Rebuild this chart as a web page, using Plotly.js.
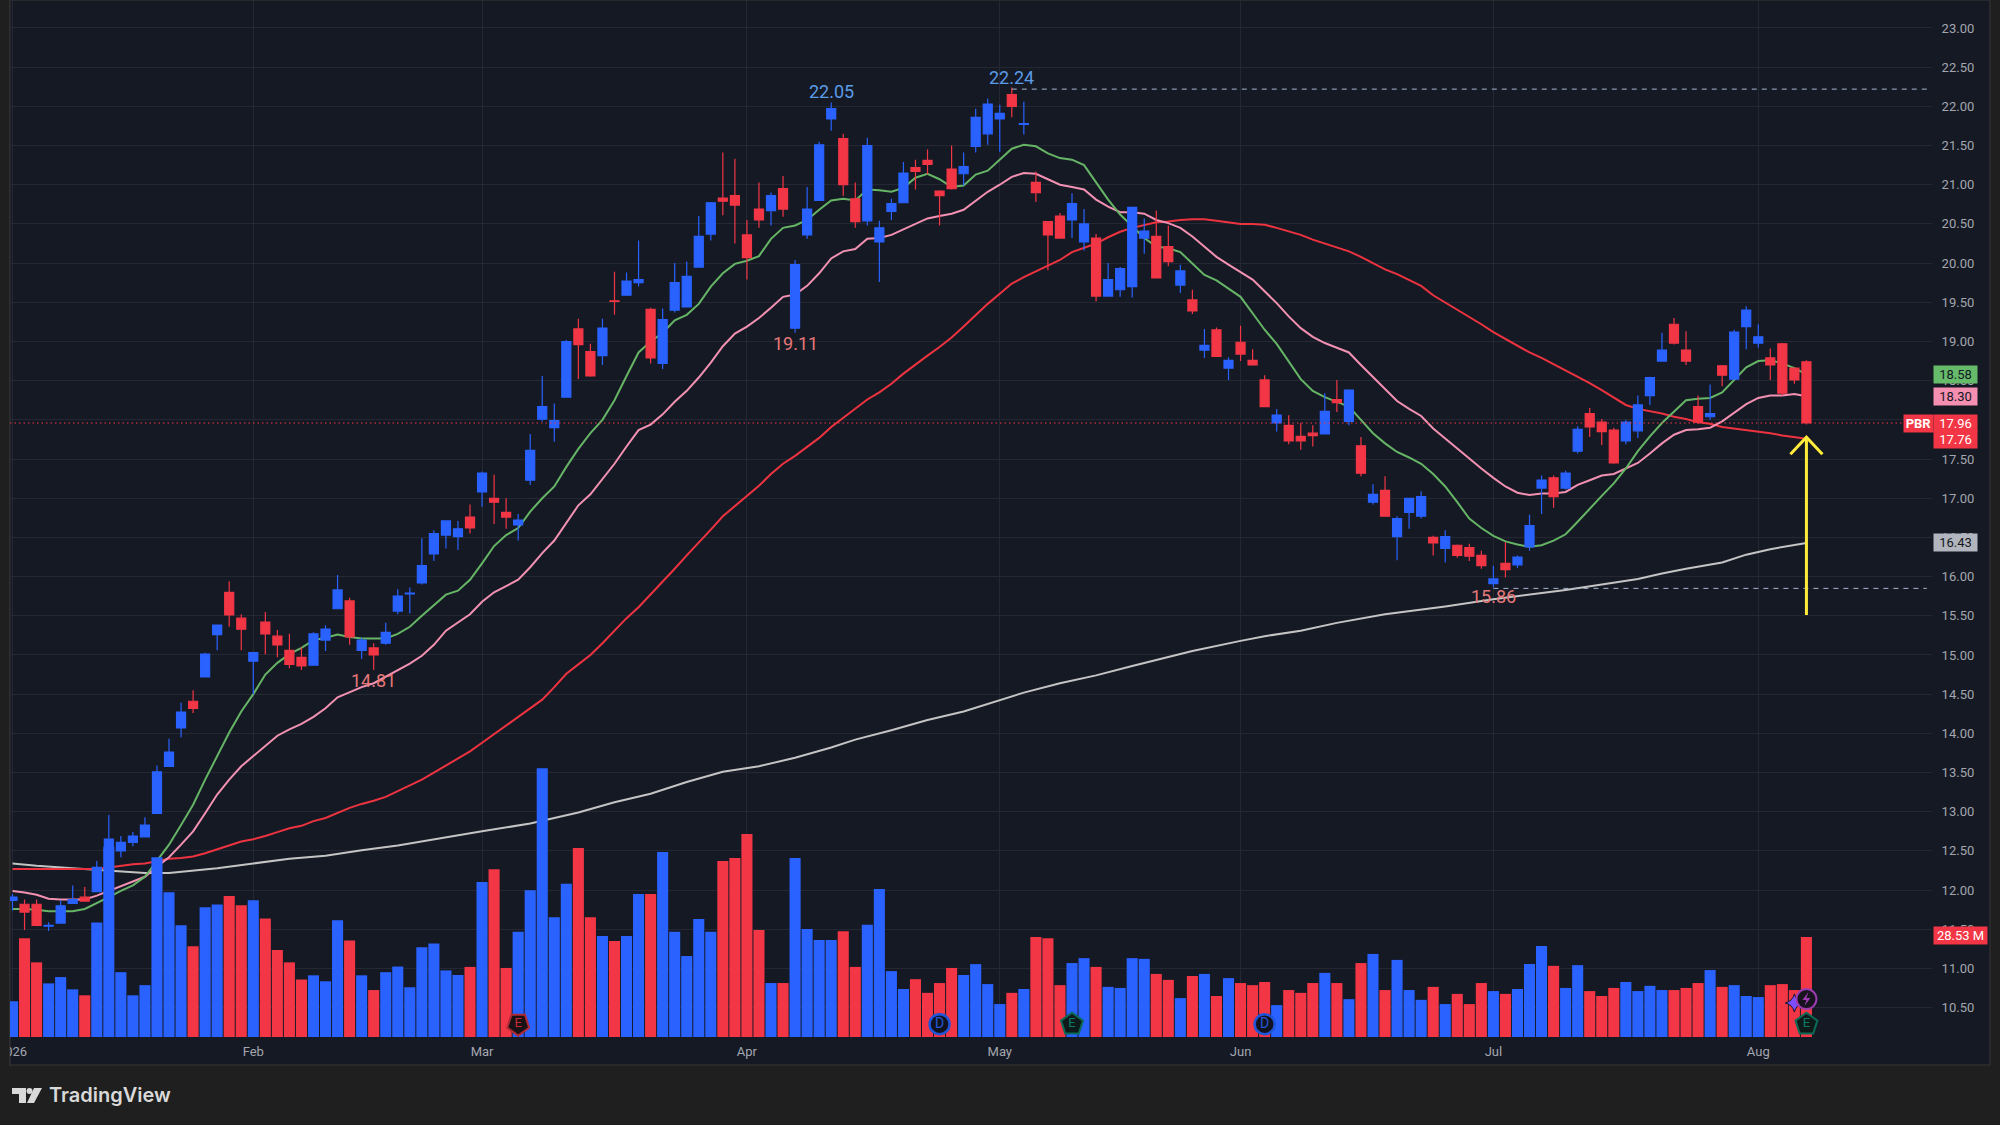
<!DOCTYPE html>
<html>
<head>
<meta charset="utf-8">
<script src="https://cdn.plot.ly/plotly-3.0.1.min.js"></script>
<style>
html,body{margin:0;padding:0;background:#1f1f1f;width:2000px;height:1125px;overflow:hidden}
#chart{position:absolute;left:0;top:0;width:2000px;height:1125px}
#edge{position:absolute;left:0;top:0;width:9px;height:1066px;background:#1f1f1f;border-right:1px solid #2e2e2e}
</style>
</head>
<body>
<div id="chart"></div>
<div id="edge"></div>
<script>
const opens = [
11.87,11.82,11.82,11.54,11.58,11.83,11.91,11.98,12.29,12.50,
12.61,12.68,12.98,13.58,14.07,14.41,14.72,15.26,15.80,15.47,
14.92,15.42,15.24,15.06,14.97,14.87,15.19,15.59,15.69,15.06,
15.09,15.15,15.56,15.78,15.92,16.29,16.53,16.51,16.76,17.08,
17.00,16.82,16.66,17.23,18.01,17.90,18.29,19.16,18.87,18.82,
19.52,19.59,19.75,19.41,18.72,19.40,19.44,19.95,20.37,20.83,
20.86,20.36,20.69,20.67,20.95,19.17,20.36,20.80,21.84,21.59,
20.82,20.54,20.27,20.66,20.77,21.22,21.31,20.92,21.20,21.14,
21.49,21.65,21.84,22.15,21.77,21.03,20.53,20.60,20.55,20.27,
20.32,19.58,19.66,19.70,20.32,20.34,20.21,19.72,19.53,18.89,
19.15,18.66,18.99,18.76,18.51,17.96,17.93,17.79,17.83,17.82,
18.26,17.98,17.67,16.95,17.10,16.51,16.82,16.77,16.50,16.36,
16.40,16.37,16.27,15.91,16.17,16.15,16.38,17.13,17.26,17.13,
17.60,18.08,17.97,17.87,17.73,17.86,18.31,18.75,19.22,18.89,
18.17,18.04,18.69,18.52,19.19,18.98,18.79,18.97,18.66,18.74];
const highs = [
11.95,11.88,11.88,11.59,11.87,12.06,12.04,12.37,12.96,12.69,
12.74,12.93,13.59,13.93,14.39,14.55,15.03,15.39,15.94,15.52,
15.04,15.55,15.32,15.27,15.10,15.29,15.38,16.02,15.73,15.22,
15.15,15.41,15.84,15.86,16.49,16.59,16.72,16.71,16.92,17.34,
17.30,17.00,16.80,17.82,18.56,18.21,19.02,19.29,18.97,19.29,
19.89,19.88,20.29,19.43,19.42,20.00,20.02,20.60,20.78,21.41,
21.33,20.55,21.03,20.90,21.11,20.04,20.97,21.55,22.05,21.65,
21.03,21.60,20.54,20.82,21.29,21.32,21.45,20.93,21.50,21.41,
21.97,22.10,22.02,22.24,22.06,21.17,20.53,20.64,20.89,20.69,
20.37,20.00,19.95,20.71,20.57,20.67,20.48,19.98,19.66,19.16,
19.18,18.80,19.20,18.90,18.57,18.14,18.06,17.96,17.93,18.34,
18.51,18.39,17.78,17.18,17.28,16.77,17.00,17.09,16.52,16.59,
16.41,16.42,16.33,16.14,16.44,16.27,16.79,17.29,17.29,17.35,
17.92,18.15,18.01,17.90,18.00,18.31,18.55,19.11,19.30,19.13,
18.31,18.45,18.70,19.15,19.45,19.22,18.91,18.98,18.66,18.76];
const lows = [
11.74,11.49,11.54,11.48,11.58,11.83,11.86,11.98,12.29,12.42,
12.56,12.68,12.98,13.58,13.95,14.26,14.72,15.06,15.36,15.06,
14.50,15.01,14.97,14.83,14.81,14.87,15.05,15.59,15.13,14.95,
14.81,15.13,15.52,15.53,15.90,16.20,16.36,16.34,16.55,16.89,
16.67,16.61,16.46,17.17,17.98,17.72,18.29,18.52,18.55,18.70,
19.34,19.59,19.70,18.72,18.65,19.37,19.44,19.94,20.29,20.61,
20.25,19.79,20.45,20.48,20.59,19.11,20.31,20.80,21.69,20.86,
20.45,20.48,19.76,20.55,20.77,20.94,21.13,20.48,20.94,20.99,
21.41,21.51,21.42,21.86,21.64,20.78,19.91,20.31,20.32,20.16,
19.51,19.58,19.57,19.56,20.12,19.81,19.96,19.62,19.35,18.79,
18.81,18.51,18.75,18.69,18.17,17.85,17.69,17.62,17.66,17.82,
18.10,17.93,17.28,16.92,16.77,16.21,16.61,16.74,16.27,16.18,
16.24,16.20,16.10,15.86,15.99,16.11,16.33,16.80,16.88,17.11,
17.57,17.78,17.68,17.44,17.69,17.77,18.19,18.75,18.96,18.70,
17.95,18.00,18.43,18.52,18.90,18.92,18.51,18.31,18.46,17.94];
const closes = [
11.91,11.72,11.55,11.55,11.80,11.88,11.86,12.29,12.65,12.61,
12.69,12.83,13.51,13.76,14.27,14.32,15.01,15.38,15.51,15.33,
15.03,15.27,15.13,14.88,14.86,15.27,15.33,15.83,15.23,15.19,
15.00,15.29,15.75,15.79,16.14,16.55,16.71,16.61,16.62,17.32,
16.95,16.76,16.72,17.61,18.17,17.99,19.00,18.96,18.56,19.17,
19.51,19.77,19.79,18.79,19.28,19.75,19.83,20.34,20.77,20.79,
20.74,20.07,20.55,20.86,20.69,19.98,20.69,21.51,21.97,21.00,
20.53,21.50,20.45,20.76,21.15,21.17,21.26,20.86,20.95,21.23,
21.86,22.03,21.91,22.00,21.78,20.90,20.36,20.32,20.76,20.50,
19.58,19.79,19.93,20.71,20.41,19.81,20.02,19.90,19.39,18.95,
18.81,18.76,18.84,18.70,18.17,18.06,17.73,17.73,17.80,18.11,
18.22,18.38,17.32,17.05,16.77,16.74,17.00,17.02,16.43,16.51,
16.27,16.26,16.14,15.97,16.09,16.25,16.65,17.23,17.02,17.32,
17.88,17.91,17.85,17.45,17.97,18.19,18.54,18.89,18.98,18.75,
17.97,18.08,18.57,19.12,19.40,19.06,18.70,18.34,18.51,17.96];
const volumes = [
10.2,28.2,21.3,15.3,17.1,13.6,11.9,32.7,54.3,18.5,
11.9,14.8,51.3,41.3,31.9,25.9,37.0,37.8,40.2,37.6,
39.0,33.8,24.8,21.3,16.4,17.6,15.9,33.3,27.5,17.6,
13.4,18.5,20.1,14.2,25.6,26.7,19.0,17.7,20.0,44.2,
47.9,19.7,30.0,41.9,76.7,34.2,43.7,53.9,34.2,28.8,
27.4,28.8,40.8,40.8,52.8,30.0,23.1,33.7,30.0,50.2,
51.1,57.9,30.5,15.4,15.4,51.1,30.8,27.7,27.7,30.2,
20.0,32.0,42.2,18.8,13.7,16.5,12.6,15.4,19.7,17.7,
20.8,15.1,9.4,12.6,13.7,28.5,28.2,14.8,21.1,22.5,
20.0,14.3,14.0,22.5,22.3,18.0,16.3,11.1,17.4,18.0,
11.7,16.8,15.4,14.8,15.7,9.1,13.4,12.6,15.4,18.3,
15.4,10.8,21.1,23.7,13.4,22.0,13.4,10.6,14.3,9.4,
12.3,9.4,15.4,13.1,12.3,13.7,20.8,26.0,20.3,14.0,
20.5,13.1,11.7,14.0,15.7,13.1,14.6,13.4,13.4,14.0,
15.4,19.1,14.3,14.8,11.7,11.4,14.8,15.1,13.4,28.53];
const maGreen = [
11.76,11.76,11.75,11.73,11.73,11.73,11.76,11.83,11.91,11.99,
12.06,12.17,12.37,12.58,12.83,13.09,13.41,13.71,14.01,14.28,
14.50,14.75,14.90,15.01,15.09,15.19,15.22,15.26,15.23,15.21,
15.21,15.21,15.27,15.36,15.50,15.64,15.77,15.82,15.96,16.17,
16.39,16.53,16.62,16.83,17.00,17.15,17.40,17.63,17.83,18.00,
18.25,18.56,18.86,19.00,19.11,19.27,19.34,19.48,19.70,19.87,
19.99,20.03,20.09,20.31,20.45,20.48,20.55,20.68,20.80,20.82,
20.80,20.94,20.93,20.91,20.96,21.09,21.14,21.07,20.97,20.99,
21.13,21.18,21.32,21.46,21.51,21.49,21.40,21.34,21.32,21.25,
21.03,20.81,20.62,20.47,20.32,20.21,20.19,20.14,20.00,19.85,
19.78,19.68,19.57,19.36,19.15,18.97,18.74,18.52,18.37,18.29,
18.23,18.17,18.00,17.83,17.70,17.59,17.52,17.44,17.31,17.15,
16.95,16.74,16.62,16.52,16.45,16.41,16.38,16.40,16.46,16.54,
16.70,16.87,17.03,17.19,17.38,17.60,17.79,17.96,18.11,18.25,
18.27,18.28,18.35,18.51,18.67,18.75,18.76,18.72,18.66,18.58];
const maPink = [
11.99,11.97,11.94,11.89,11.88,11.88,11.88,11.93,11.99,12.06,
12.11,12.17,12.30,12.42,12.58,12.75,12.98,13.22,13.41,13.58,
13.71,13.84,13.97,14.05,14.12,14.21,14.32,14.46,14.53,14.59,
14.64,14.72,14.81,14.89,14.99,15.13,15.31,15.41,15.52,15.68,
15.80,15.88,15.96,16.12,16.30,16.46,16.69,16.91,17.05,17.25,
17.44,17.66,17.87,17.94,18.07,18.23,18.37,18.54,18.73,18.94,
19.10,19.19,19.30,19.43,19.57,19.60,19.71,19.87,20.06,20.15,
20.18,20.31,20.32,20.36,20.43,20.50,20.57,20.60,20.63,20.68,
20.80,20.91,21.00,21.10,21.15,21.14,21.07,21.00,20.97,20.94,
20.81,20.72,20.65,20.65,20.63,20.55,20.51,20.45,20.34,20.21,
20.08,19.98,19.88,19.79,19.64,19.49,19.32,19.17,19.06,18.98,
18.92,18.86,18.70,18.55,18.39,18.24,18.14,18.05,17.89,17.76,
17.63,17.50,17.38,17.26,17.15,17.07,17.04,17.06,17.06,17.08,
17.17,17.23,17.29,17.31,17.38,17.45,17.57,17.70,17.81,17.87,
17.88,17.90,17.98,18.09,18.20,18.28,18.31,18.31,18.33,18.30];
const maRed = [
12.27,12.27,12.27,12.27,12.27,12.27,12.27,12.27,12.29,12.31,
12.33,12.34,12.37,12.40,12.41,12.43,12.47,12.52,12.57,12.62,
12.65,12.69,12.74,12.79,12.82,12.88,12.92,12.99,13.05,13.10,
13.14,13.19,13.26,13.33,13.41,13.50,13.59,13.68,13.77,13.88,
13.99,14.10,14.21,14.31,14.43,14.59,14.76,14.88,15.00,15.15,
15.31,15.47,15.61,15.77,15.93,16.10,16.27,16.43,16.60,16.77,
16.90,17.03,17.16,17.31,17.44,17.54,17.65,17.77,17.91,18.03,
18.15,18.26,18.35,18.46,18.59,18.71,18.82,18.93,19.05,19.19,
19.34,19.48,19.61,19.74,19.82,19.89,19.96,20.04,20.14,20.19,
20.25,20.33,20.40,20.45,20.49,20.52,20.53,20.55,20.56,20.56,
20.54,20.52,20.50,20.50,20.49,20.45,20.41,20.36,20.30,20.25,
20.20,20.15,20.08,20.00,19.92,19.86,19.79,19.71,19.59,19.50,
19.41,19.31,19.22,19.12,19.03,18.95,18.86,18.79,18.71,18.64,
18.55,18.47,18.38,18.29,18.19,18.14,18.11,18.08,18.04,18.01,
17.97,17.95,17.91,17.89,17.87,17.85,17.83,17.80,17.78,17.76];
const maWhiteBars = [0,2,5,7,9,11,13,15,17,20,23,26,29,32,35,39,43,47,50,53,56,59,62,65,68,70,73,76,79,82,84,87,90,93,95,98,102,104,107,110,114,119,123,126,129,132,135,137,139,142,144,146,149];
const maWhite = [12.34,12.31,12.28,12.26,12.24,12.22,12.22,12.25,12.28,12.34,12.40,12.44,12.51,12.57,12.65,12.75,12.85,12.99,13.12,13.23,13.38,13.51,13.58,13.69,13.82,13.92,14.04,14.17,14.28,14.42,14.52,14.64,14.74,14.86,14.94,15.05,15.18,15.24,15.31,15.41,15.52,15.62,15.71,15.77,15.83,15.90,15.97,16.04,16.10,16.18,16.28,16.35,16.43];

const monthBars = [0,20,39,61,82,102,123,145];
const monthLabels = ['2026','Feb','Mar','Apr','May','Jun','Jul','Aug'];

const extremeBars = [68,83,65,30,123];
const extremeLabels = ['22.05','22.24','19.11','14.81','15.86'];
const extremeAnchors = [22.19,22.37,18.97,14.67,15.74];

const lastTags = [
 {text:'18.58',price:18.58,bg:'#66bb6a',fg:'#131722'},
 {text:'18.30',price:18.30,bg:'#f48fb1',fg:'#131722'},
 {text:'16.43',price:16.44,bg:'#b2b5be',fg:'#131722'}
];

const BLUE='#2962ff', RED='#f23645', PANEL='#151924', GRID='#252833', TXT='#a3a6af';
const bars = opens.map((_, i) => i);
// pixel geometry of the panel
const W=2000,H=1125,L=10,R=1932,B=1037;
const priceRange=[10.126,23.357];
const volRange=[0,295.9];
const xRange=[-0.2076,159.43];
const px=x=>(x-L)/(R-L), py=y=>1-y/B;
const P=(x,y)=>px(x).toFixed(5)+','+py(y).toFixed(5);

const hiddenY=r=>({overlaying:'y',range:r,visible:false,fixedrange:true,showgrid:false,zeroline:false});

const lineTrace=(x,y,color)=>({type:'scatter',mode:'lines',x,y,yaxis:'y',hoverinfo:'skip',showlegend:false,cliponaxis:true,
  line:{color,width:2,shape:'linear'}});

const traces=[
 lineTrace(maWhiteBars,maWhite,'#c4c4c4'),
 lineTrace(bars,maRed,'#ee3340'),
 lineTrace(bars,maPink,'#f291b2'),
 lineTrace(bars,maGreen,'#66b566'),
 {type:'candlestick',x:bars,open:opens,high:highs,low:lows,close:closes,yaxis:'y2',hoverinfo:'skip',showlegend:false,whiskerwidth:0,
  increasing:{line:{color:BLUE,width:1.2},fillcolor:BLUE},decreasing:{line:{color:RED,width:1.2},fillcolor:RED}},
 {type:'bar',x:bars,y:volumes,yaxis:'y3',hoverinfo:'skip',showlegend:false,width:0.92,
  marker:{color:bars.map(i=>closes[i]>=opens[i]?BLUE:RED),line:{width:0}}},
 // price line
 {type:'scatter',mode:'lines',x:xRange,y:[17.96,17.96],yaxis:'y4',hoverinfo:'skip',showlegend:false,line:{color:RED,width:1,dash:'1.5px,3px'}},
 // high / low range lines
 {type:'scatter',mode:'lines',x:[83,159],y:[22.22,22.22],yaxis:'y4',hoverinfo:'skip',showlegend:false,line:{color:'#a8b6d0',width:1,dash:'5px,5px'}},
 {type:'scatter',mode:'lines',x:[123,159],y:[15.85,15.85],yaxis:'y4',hoverinfo:'skip',showlegend:false,line:{color:'#a8b6d0',width:1,dash:'5px,5px'}},
 // yellow arrow
 {type:'scatter',mode:'lines',x:[149,149,null,147.67,149,150.33],y:[15.51,17.78,null,17.56,17.78,17.56],yaxis:'y4',hoverinfo:'skip',showlegend:false,line:{color:'#ffeb3b',width:3}},
 // event badges
 {type:'scatter',mode:'markers+text',x:[42],y:[10.29],yaxis:'y4',text:['E'],textposition:'middle center',textfont:{color:'#c62b38',size:13,family:'Roboto'},hoverinfo:'skip',showlegend:false,
  marker:{symbol:'pentagon',angle:180,size:23,color:'#1a1114',line:{color:'#b02a35',width:2}}},
 {type:'scatter',mode:'markers+text',x:[88,149],y:[10.29,10.29],yaxis:'y4',text:['E','E'],textposition:'middle center',textfont:{color:'#0c7a62',size:13,family:'Roboto'},hoverinfo:'skip',showlegend:false,
  marker:{symbol:'pentagon',size:23,color:'#0e1a1a',line:{color:'#0b6a56',width:2}}},
 {type:'scatter',mode:'markers+text',x:[77,104],y:[10.29,10.29],yaxis:'y4',text:['D','D'],textposition:'middle center',textfont:{color:'#2457d6',size:14,family:'Roboto'},hoverinfo:'skip',showlegend:false,
  marker:{symbol:'circle',size:20,color:'#10131f',line:{color:'#1f55d8',width:2.5}}},
 {type:'scatter',mode:'markers',x:[148],y:[10.56],yaxis:'y4',hoverinfo:'skip',showlegend:false,
  marker:{symbol:'star-diamond',size:13,color:'#7c4dff',line:{color:'#131722',width:1}}},
 {type:'scatter',mode:'markers',x:[149],y:[10.61],yaxis:'y4',hoverinfo:'skip',showlegend:false,
  marker:{symbol:'circle',size:20,color:'#17131f',line:{color:'#9c3cb0',width:2}}}
];

const tagX=px(1933);
const tag=(text,y,bg,fg,width,extra)=>Object.assign({xref:'paper',yref:'y',x:tagX,xanchor:'left',y,yanchor:'middle',text,showarrow:false,
  bgcolor:bg,width:width||43,height:17,borderpad:0,align:'center',font:{family:'Roboto',size:13,color:fg}},extra||{});

const annotations=[
 ...extremeLabels.map((t,i)=>({xref:'x',yref:'y',x:extremeBars[i],y:extremeAnchors[i],text:t,showarrow:false,xanchor:'center',yanchor:'middle',
   font:{family:'Roboto',size:18,color:(t==='22.05'||t==='22.24')?'#5b9be8':'#e57878'}})),
 ...lastTags.map(t=>tag(t.text,t.price,t.bg,t.fg)),
 tag('17.96',17.96,RED,'#ffffff'),
 tag('17.76',17.75,RED,'#ffffff'),
 tag('<b>PBR</b>',17.96,RED,'#ffffff',29,{x:px(1903)}),
 tag('28.53 M',11.42,RED,'#ffffff',53),
 {xref:'paper',yref:'paper',x:px(46.5),y:py(1095),xanchor:'left',yanchor:'middle',text:'TradingView',showarrow:false,
  font:{family:'Inter',size:20,color:'#d9d9d9',weight:600}}
];

const shapes=[
 // chart panel and its frame (paper coordinates)
 {type:'rect',xref:'paper',yref:'paper',x0:px(10),x1:px(1990),y0:py(1065),y1:py(0),layer:'below',fillcolor:PANEL,line:{color:'#2e2e2e',width:1.5}},
 // lightning glyph
 {type:'path',xref:'x',yref:'y',xsizemode:'pixel',ysizemode:'pixel',xanchor:149,yanchor:10.61,layer:'above',
  path:'M2,7 L-4,-1 L0,-1 L-2,-7 L4,1 L0,1 Z',fillcolor:'#9c3cb0',line:{width:0}},
 // TradingView logo
 {type:'path',xref:'paper',yref:'paper',layer:'above',fillcolor:'#d9d9d9',line:{width:0},
  path:'M'+P(12,1088)+' L'+P(26,1088)+' L'+P(26,1103)+' L'+P(19,1103)+' L'+P(19,1094)+' L'+P(12,1094)+' Z'},
 {type:'circle',xref:'paper',yref:'paper',layer:'above',fillcolor:'#d9d9d9',line:{width:0},x0:px(26.5),x1:px(32.5),y0:py(1094),y1:py(1088)},
 {type:'path',xref:'paper',yref:'paper',layer:'above',fillcolor:'#d9d9d9',line:{width:0},
  path:'M'+P(34,1088)+' L'+P(42,1088)+' L'+P(34,1103)+' L'+P(27,1103)+' Z'}
];

const layout={
 width:W,height:H,paper_bgcolor:'#1f1f1f',plot_bgcolor:PANEL,showlegend:false,
 margin:{l:L,r:W-R,t:0,b:H-B,pad:0},
 bargap:0.08,boxgap:0.25,boxgroupgap:0,
 xaxis:{type:'linear',range:xRange,fixedrange:true,rangeslider:{visible:false},tickmode:'array',tickvals:monthBars,ticktext:monthLabels,
   showgrid:true,gridcolor:GRID,gridwidth:1,zeroline:false,showline:false,ticks:'outside',ticklen:2,tickcolor:PANEL,ticklabeloverflow:'allow',
   tickfont:{family:'Roboto',size:13,color:TXT}},
 yaxis:{side:'right',range:priceRange,fixedrange:true,tick0:10.5,dtick:0.5,tickformat:'.2f',showgrid:true,gridcolor:GRID,gridwidth:1,zeroline:false,showline:false,
   ticks:'outside',ticklen:6,tickcolor:PANEL,tickfont:{family:'Roboto',size:13,color:TXT}},
 yaxis2:hiddenY(priceRange),
 yaxis3:hiddenY(volRange),
 yaxis4:hiddenY(priceRange),
 annotations,shapes
};
Plotly.newPlot('chart',traces,layout,{staticPlot:true,displayModeBar:false});
</script>
</body>
</html>
